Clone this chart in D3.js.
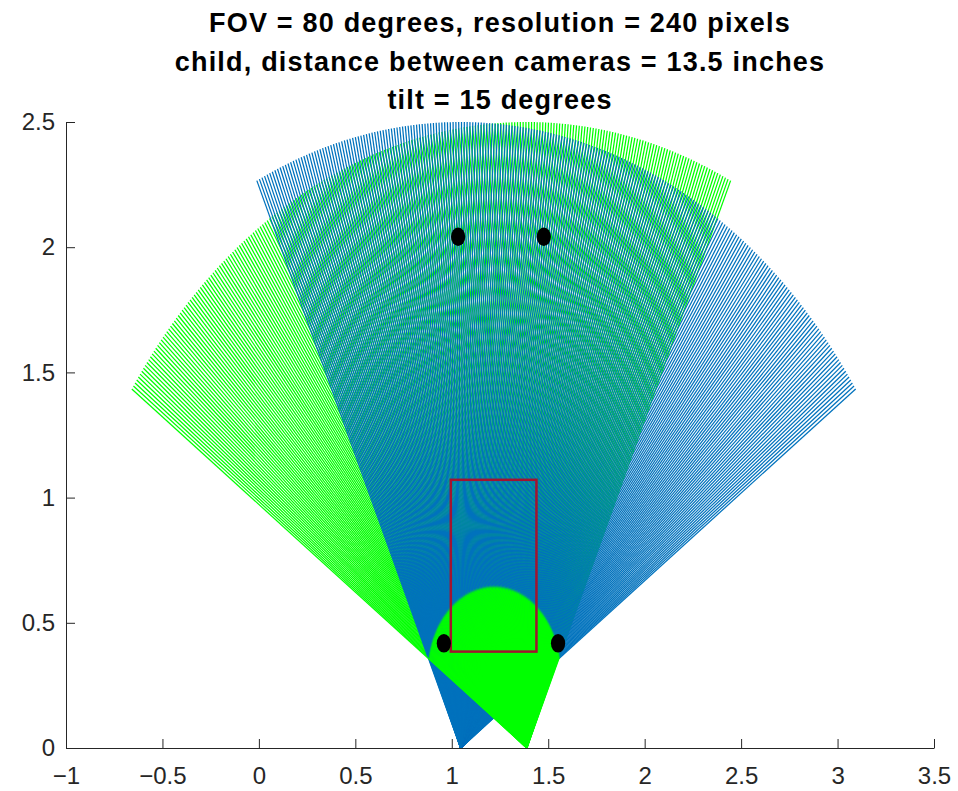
<!DOCTYPE html>
<html>
<head>
<meta charset="utf-8">
<script src="https://cdn.jsdelivr.net/npm/d3@7"></script>
<style>
  body { margin: 0; background: #fff; }
  .axis text { font-family: "Liberation Sans", Arial, sans-serif; font-size: 24px; fill: #262626; }
  .axis path, .axis line { stroke: #262626; stroke-width: 1; }
</style>
</head>
<body>
<svg id="mainsvg" width="958" height="791"></svg>
<script>
const titleLines = [
  'FOV = 80 degrees, resolution = 240 pixels',
  'child, distance between cameras = 13.5 inches',
  'tilt = 15 degrees'
];
const xTicks = [-1, -0.5, 0, 0.5, 1, 1.5, 2, 2.5, 3, 3.5];
const yTicks = [0, 0.5, 1, 1.5, 2, 2.5];

// cameras (left one tilted right, right one tilted left)
const camX = [1.046, 1.389];
const camTilt = [15, -15];
const camColor = ['#0072BD', '#00FF00'];
const fov = 80;          // degrees
const resolution = 240;  // rays per camera
const maxRange = 2.5;

// eye markers
const dotX = [1.033, 1.477, 0.959, 1.551];
const dotY = [2.042, 2.042, 0.418, 0.418];
const dotR = 0.037;

// child box
const boxX = [0.995, 1.439];
const boxY = [0.385, 1.071];

const svg = d3.select('#mainsvg');
const margin = {top: 122, right: 24, bottom: 43, left: 66};
const width = +svg.attr('width') - margin.left - margin.right;
const height = +svg.attr('height') - margin.top - margin.bottom;

const xScale = d3.scaleLinear().domain([-1, 3.5]).range([margin.left, margin.left + width]);
const yScale = d3.scaleLinear().domain([0, 2.5]).range([margin.top + height, margin.top]);

// rays, interleaved camera by camera so the draw order matches the original
const rays = [];
d3.range(resolution).forEach(i => {
  camX.forEach((cx, c) => {
    const a = (camTilt[c] + fov / 2 - i * fov / (resolution - 1)) * Math.PI / 180;
    rays.push({c: c, x0: cx, y0: 0, x1: cx + maxRange * Math.sin(a), y1: maxRange * Math.cos(a)});
  });
});

const rayGroup = svg.append('g');
rayGroup.selectAll('line')
  .data(rays)
  .enter().append('line')
  .attr('x1', d => xScale(d.x0))
  .attr('y1', d => yScale(d.y0))
  .attr('x2', d => xScale(d.x1))
  .attr('y2', d => yScale(d.y1))
  .attr('stroke', d => camColor[d.c])
  .attr('stroke-width', 1.25);

// child box
svg.append('rect')
  .attr('x', xScale(boxX[0]))
  .attr('y', yScale(boxY[1]))
  .attr('width', xScale(boxX[1]) - xScale(boxX[0]))
  .attr('height', yScale(boxY[0]) - yScale(boxY[1]))
  .attr('fill', 'none')
  .attr('stroke', '#A2142F')
  .attr('stroke-width', 2.5);

// eyes
svg.append('g').selectAll('ellipse')
  .data(dotX)
  .enter().append('ellipse')
  .attr('cx', d => xScale(d))
  .attr('cy', (d, i) => yScale(dotY[i]))
  .attr('rx', xScale(dotR) - xScale(0))
  .attr('ry', yScale(0) - yScale(dotR))
  .attr('fill', '#000');

// axes
svg.append('g')
  .attr('class', 'axis')
  .attr('transform', `translate(0, ${yScale(0)})`)
  .call(d3.axisBottom(xScale).tickValues(xTicks).tickFormat(d3.format('')).tickSizeInner(-9).tickSizeOuter(0).tickPadding(19));

svg.append('g')
  .attr('class', 'axis')
  .attr('transform', `translate(${xScale(-1)}, 0)`)
  .call(d3.axisLeft(yScale).tickValues(yTicks).tickFormat(d3.format('')).tickSizeInner(-9).tickSizeOuter(0).tickPadding(11));

svg.selectAll('.axis .domain').attr('stroke', '#262626');

// title
svg.append('g').selectAll('text')
  .data(titleLines)
  .enter().append('text')
  .attr('x', (xScale(-1) + xScale(3.5)) / 2)
  .attr('y', (d, i) => 32 + i * 38.5)
  .attr('text-anchor', 'middle')
  .style('font-family', '"Liberation Sans", Arial, sans-serif')
  .style('font-size', '27px')
  .style('font-weight', 'bold')
  .style('letter-spacing', '1.2px')
  .style('fill', '#000')
  .text(d => d);
</script>
</body>
</html>
